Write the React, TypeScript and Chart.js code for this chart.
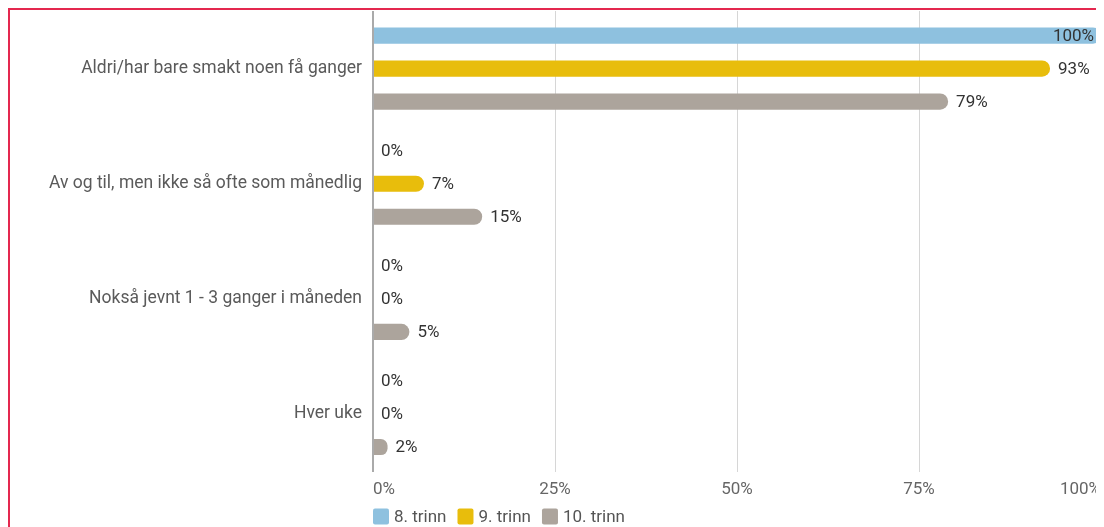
import React, { useEffect, useRef } from "react";
import { Chart, registerables } from "chart.js";

Chart.register(...registerables);

const categories = [
  "Aldri/har bare smakt noen få ganger",
  "Av og til, men ikke så ofte som månedlig",
  "Nokså jevnt 1 - 3 ganger i måneden",
  "Hver uke",
];
const seriesNames = ["8. trinn", "9. trinn", "10. trinn"];
const trinn8 = [100, 0, 0, 0];
const trinn9 = [93, 7, 0, 0];
const trinn10 = [79, 15, 5, 2];
const xTicks = [0, 25, 50, 75, 100];
const colors = ["#8ec1df", "#e8bd0c", "#aca49c"];

const FONT = "Roboto, 'Noto Sans', sans-serif";

const valueLabels = {
  id: "valueLabels",
  afterDatasetsDraw(chart: any) {
    const ctx = chart.ctx;
    const area = chart.chartArea;
    ctx.save();
    ctx.font = `17px ${FONT}`;
    ctx.fillStyle = "#333333";
    ctx.textBaseline = "middle";
    ctx.textAlign = "left";
    chart.data.datasets.forEach((ds: any, i: number) => {
      const meta = chart.getDatasetMeta(i);
      meta.data.forEach((bar: any, j: number) => {
        const txt = `${ds.data[j]}%`;
        const w = ctx.measureText(txt).width;
        let x = bar.x + 8;
        if (x + w > area.right - 7) x = area.right - 7 - w;
        ctx.fillText(txt, x, bar.y + 1);
      });
    });
    ctx.restore();
  },
};

const customLegend = {
  id: "customLegend",
  afterDraw(chart: any) {
    const ctx = chart.ctx;
    const area = chart.chartArea;
    ctx.save();
    ctx.font = `17px ${FONT}`;
    ctx.textBaseline = "middle";
    ctx.textAlign = "left";
    let x = area.left;
    const y = area.bottom + 45;
    chart.data.datasets.forEach((ds: any) => {
      ctx.fillStyle = ds.backgroundColor;
      ctx.beginPath();
      (ctx as any).roundRect(x, y - 8, 16, 16, 2);
      ctx.fill();
      ctx.fillStyle = "#555555";
      ctx.fillText(ds.label, x + 21, y + 1);
      x += 21 + ctx.measureText(ds.label).width + 11;
    });
    ctx.restore();
  },
};

export default function App() {
  const ref = useRef<HTMLCanvasElement>(null);
  useEffect(() => {
    document.documentElement.style.overflow = "hidden";
    if (!ref.current) return;
    const chart = new Chart(ref.current, {
      type: "bar",
      data: {
        labels: categories,
        datasets: [trinn8, trinn9, trinn10].map((d, i) => ({
          label: seriesNames[i],
          data: d,
          backgroundColor: colors[i],
          borderRadius: 8,
          borderSkipped: "start",
          categoryPercentage: 0.86,
          barPercentage: 0.49,
        })),
      },
      options: {
        indexAxis: "y",
        animation: false,
        responsive: false,
        maintainAspectRatio: false,
        layout: { padding: { top: 1, bottom: 28, left: 0, right: 0 } },
        plugins: { legend: { display: false }, tooltip: { enabled: false } },
        scales: {
          x: {
            min: 0,
            max: 100,
            afterBuildTicks(scale: any) {
              scale.ticks = xTicks.map((v) => ({ value: v }));
            },
            afterFit(scale: any) {
              scale.paddingLeft = 0;
              scale.paddingRight = 0;
            },
            ticks: {
              align: "inner",
              padding: 8,
              color: "#666666",
              font: { family: FONT, size: 17 },
              callback: (v: any) => `${v}%`,
            },
            grid: {
              drawTicks: false,
              color: (c: any) => (c.tick && c.tick.value === 0 ? "#aaaaaa" : "#d6d6d6"),
              lineWidth: (c: any) => (c.tick && c.tick.value === 0 ? 2 : 1),
            },
            border: { display: false },
          },
          y: {
            afterFit(scale: any) {
              scale.width = 363;
              scale.paddingTop = 0;
              scale.paddingBottom = 0;
            },
            ticks: {
              padding: 11,
              color: "#5a5a5a",
              font: { family: FONT, size: 17.5 },
            },
            grid: { display: false, drawTicks: false },
            border: { display: false },
          },
        },
      },
      plugins: [valueLabels, customLegend],
    } as any);
    return () => chart.destroy();
  }, []);
  return (
    <div
      style={{
        border: "2px solid #e4284f",
        width: 1091,
        height: 540,
        overflow: "hidden",
        boxSizing: "content-box",
      }}
    >
      <canvas ref={ref} width={1091} height={526} style={{ display: "block" }} />
    </div>
  );
}
